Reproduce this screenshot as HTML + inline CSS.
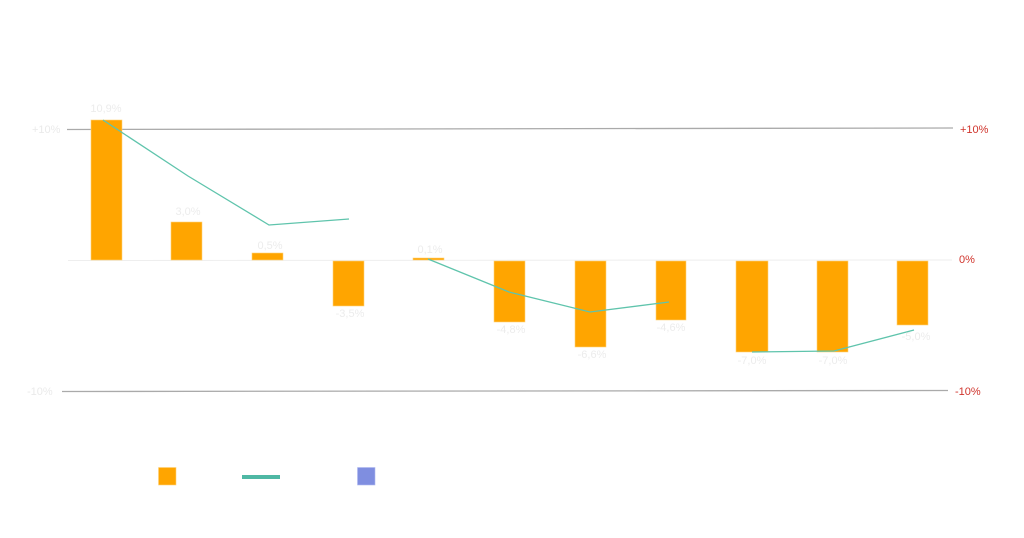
<!DOCTYPE html>
<html><head><meta charset="utf-8"><style>
html,body{margin:0;padding:0;background:#fff;}
svg{display:block;font-family:"Liberation Sans",sans-serif;}
</style></head><body>
<svg width="1024" height="538" viewBox="0 0 1024 538" xmlns="http://www.w3.org/2000/svg">
<rect width="1024" height="538" fill="#fff"/>
<line x1="67" y1="129.5" x2="953" y2="128" stroke="#aaa" stroke-width="1.3"/>
<line x1="68" y1="260.5" x2="952" y2="260" stroke="#eee" stroke-width="1"/>
<line x1="62" y1="391.5" x2="948" y2="390.5" stroke="#aaa" stroke-width="1.3"/>
<g font-size="11" fill="#eaeaea">
<text x="32" y="133">+10%</text>
<text x="27" y="395">-10%</text>
</g>
<g font-size="11" fill="#d0342c">
<text x="960" y="133">+10%</text>
<text x="959" y="263">0%</text>
<text x="955" y="395">-10%</text>
</g>
<g fill="#ffa500" stroke="#ffd27a" stroke-width="0.6">
<rect x="91" y="120" width="31" height="140"/>
<rect x="171" y="222" width="31" height="38"/>
<rect x="252" y="253" width="31" height="7"/>
<rect x="333" y="261" width="31" height="45"/>
<rect x="413" y="258" width="31" height="2"/>
<rect x="494" y="261" width="31" height="61"/>
<rect x="575" y="261" width="31" height="86"/>
<rect x="656" y="261" width="30" height="59"/>
<rect x="736" y="261" width="32" height="91"/>
<rect x="817" y="261" width="31" height="91"/>
<rect x="897" y="261" width="31" height="64"/>
</g>
<g fill="none" stroke="#5fc4ac" stroke-width="1.3">
<polyline points="103,120 188,176 269,225 349,219"/>
<polyline points="428,259 509,292 590,312 669,302"/>
<polyline points="752,352 834,351 914,330"/>
</g>
<g font-size="11" fill="#ececec" text-anchor="middle">
<text x="106" y="112">10,9%</text>
<text x="188" y="215">3,0%</text>
<text x="270" y="249">0,5%</text>
<text x="350" y="317">-3,5%</text>
<text x="430" y="253">0,1%</text>
<text x="511" y="333">-4,8%</text>
<text x="592" y="358">-6,6%</text>
<text x="671" y="331">-4,6%</text>
<text x="752" y="364">-7,0%</text>
<text x="833" y="364">-7,0%</text>
<text x="916" y="340">-5,0%</text>
</g>
<rect x="158.5" y="467.5" width="17.5" height="17.5" fill="#ffa500" stroke="#ffd27a" stroke-width="0.6"/>
<rect x="242" y="475" width="38" height="4" fill="#4fb8a4"/>
<rect x="357.5" y="467.5" width="17.5" height="17.5" fill="#7f8ee0" stroke="#b0baf0" stroke-width="0.6"/>
</svg>
</body></html>
